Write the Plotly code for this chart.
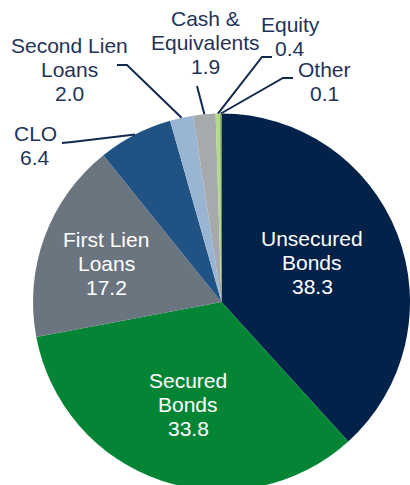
import math
import plotly.graph_objects as go

# ---- data ----
categories = ["Unsecured Bonds", "Secured Bonds", "First Lien Loans", "CLO",
              "Second Lien Loans", "Cash & Equivalents", "Equity", "Other"]
values = [38.3, 33.8, 17.2, 6.4, 2.0, 1.9, 0.4, 0.1]
label_lines = [["Unsecured", "Bonds"], ["Secured", "Bonds"], ["First Lien", "Loans"],
               ["CLO"], ["Second Lien", "Loans"], ["Cash &", "Equivalents"],
               ["Equity"], ["Other"]]

# ---- styling / layout ----
colors = ["#02224A", "#048536", "#6B7580", "#215284",
          "#9AB5D3", "#A7AAAD", "#B3D98A", "#5E8B3A"]
W, H = 410, 491
PIE_LEFT = 33            # px, left edge of pie domain
PIE_SIZE = 378           # px, pie domain height
FONT = "Liberation Sans, Arial, sans-serif"
FS = 21
LINE_GAP = 24
OUT_COLOR = "#1F3358"
LEADER_COLOR = "#12294F"

# label anchor: (center x px, middle-line baseline y px), inside flag
label_pos = {
    "Unsecured Bonds": (312, 270, True),
    "Secured Bonds": (188, 412, True),
    "First Lien Loans": (106, 271, True),
    "CLO": (35, 152.5, False),
    "Second Lien Loans": (69, 77, False),
    "Cash & Equivalents": (205, 49.5, False),
    "Equity": (290, 43.7, False),
    "Other": (324, 89, False),
}
# leader polyline points from label side (px); final point is on the pie edge
leader_pts = {
    "CLO": [(62, 143), (72, 142)],
    "Second Lien Loans": [(117, 65), (127, 65)],
    "Cash & Equivalents": [(197, 86)],
    "Equity": [(272, 57), (262, 57)],
    "Other": [(293, 78), (283, 78)],
}

def px(x):
    return x / W

def py(y):
    return 1 - y / H

fig = go.Figure(go.Pie(
    labels=categories, values=values, sort=False, direction="clockwise",
    rotation=0, textinfo="none", hoverinfo="label+value",
    marker=dict(colors=colors, line=dict(width=0)),
    domain=dict(x=[PIE_LEFT / W, 1], y=[0, PIE_SIZE / H]),
))

cx = (PIE_LEFT + W) / 2
cy = H - PIE_SIZE / 2
r = min(W - PIE_LEFT, PIE_SIZE) / 2
total = sum(values)

annotations = []
shapes = []
cum = 0.0
for cat, val, lines in zip(categories, values, label_lines):
    mid = (cum + val / 2) / total * 2 * math.pi
    cum += val
    x0, yb, inside = label_pos[cat]
    txt_lines = lines + [f"{val:.1f}"]
    n = len(txt_lines)
    for i, t in enumerate(txt_lines):
        base = yb + (i - (n - 1) / 2) * LINE_GAP
        annotations.append(dict(
            x=px(x0), y=py(base - 0.3465 * FS), xref="paper", yref="paper",
            text=t, showarrow=False, xanchor="center", yanchor="middle",
            font=dict(family=FONT, size=FS, color="white" if inside else OUT_COLOR),
        ))
    if cat in leader_pts:
        ex = cx + r * math.sin(mid)
        ey = cy - r * math.cos(mid)
        pts = leader_pts[cat] + [(ex, ey)]
        path = "M " + " L ".join(f"{px(a):.5f},{py(b):.5f}" for a, b in pts)
        shapes.append(dict(type="path", path=path, xref="paper", yref="paper",
                           line=dict(color=LEADER_COLOR, width=2)))

fig.update_layout(
    width=W, height=H, margin=dict(l=0, r=0, t=0, b=0, pad=0),
    paper_bgcolor="white", plot_bgcolor="white", showlegend=False,
    annotations=annotations, shapes=shapes,
)

fig.write_html(
    "out.html",
    config={"displayModeBar": False},
    post_script="document.documentElement.style.overflow='hidden';"
                "document.body.style.overflow='hidden';document.body.style.margin='0';",
)
